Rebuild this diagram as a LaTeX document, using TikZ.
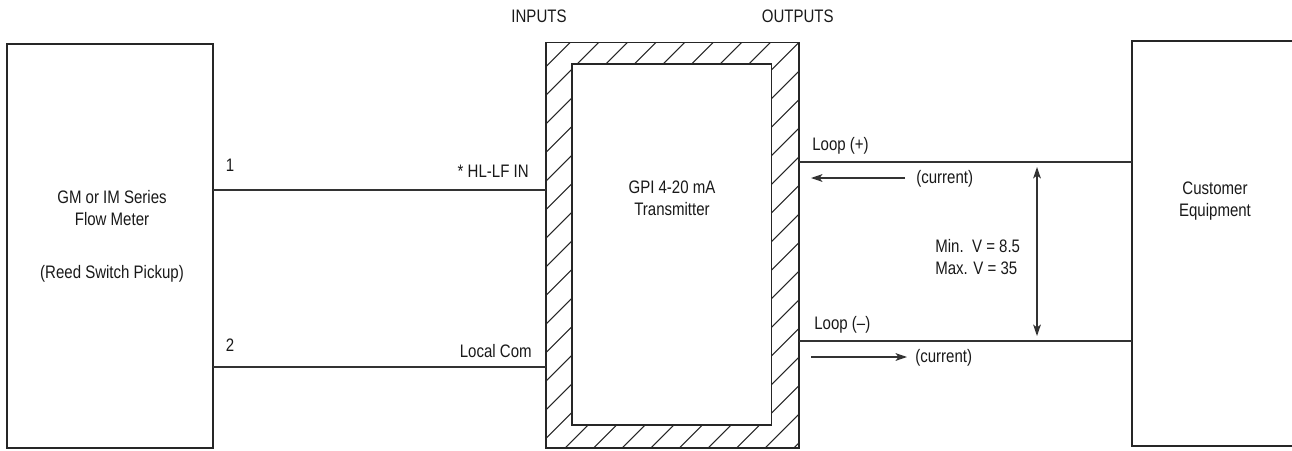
\documentclass[tikz,border=0pt]{standalone}
\usepackage{fontspec}
\setmainfont{Liberation Sans}[FakeStretch=0.83]
\usetikzlibrary{arrows.meta,positioning,calc}

\begin{document}
\begin{tikzpicture}[
  x=0.02cm, y=-0.02cm,
  >={Stealth[length=6.5pt, width=4.4pt, inset=1.6pt]},
  every node/.style={font=\fontsize{10.3}{12.5}\selectfont, text=black!90},
  blk/.style={draw=black!85, line width=0.9pt, inner sep=0pt, outer sep=0pt},
  wire/.style={draw=black!80, line width=0.8pt},
  hatch/.style={draw=black!85, line width=0.6pt},
  lbl/.style={inner sep=0pt},
]
  \useasboundingbox (0,0) rectangle (1292,450);

  % Flow meter
  \node[blk, minimum width=4.12cm, minimum height=8.08cm] (meter) at (110,246) {};
  \node[lbl, align=center, anchor=base] (mtxt) at (112,278)
    {GM or IM Series\\Flow Meter\\[17.5pt](Reed Switch Pickup)};

  % Transmitter with hatched housing
  \node[blk, minimum width=5.06cm, minimum height=8.11cm] (xmtr) at (672.5,245.2) {};
  \begin{scope}
    \clip (xmtr.south west) rectangle (xmtr.north east);
    \foreach \c in {584,612.6,...,1280}
      \draw[hatch] (\c-460,460) -- (\c-30,30);
  \end{scope}
  \node[blk, fill=white, minimum width=3.99cm, minimum height=7.22cm] (core) at (671.7,244.5) {};
  \node[blk, minimum width=5.06cm, minimum height=8.11cm] at (xmtr.center) {};
  \node[lbl, align=center, anchor=base] (gpi) at (672,215)
    {GPI 4-20 mA\\Transmitter};

  % Customer side
  \node[blk, minimum width=3.32cm, minimum height=8.1cm] (cust) at (1215,243.5) {};
  \node[lbl, align=center, anchor=base] (ctxt) at (1215,216)
    {Customer\\Equipment};

  % Headings
  \node[lbl, anchor=base] (inp) at (539,22) {INPUTS};
  \node[lbl, anchor=base] (outp) at (797.7,22) {OUTPUTS};

  % Input wiring
  \draw[wire] (meter.east |- 0,190) -- (xmtr.west |- 0,190);
  \draw[wire] (meter.east |- 0,367) -- (xmtr.west |- 0,367);
  \node[lbl, anchor=base] (t1) at (230,171) {1};
  \node[lbl, anchor=base] (t2) at (230,351) {2};
  \node[lbl, anchor=base east] (hl) at (529,177) {* HL-LF IN};
  \node[lbl, anchor=base east] (lc) at (532,357) {Local Com};

  % Output loop
  \draw[wire] (xmtr.east |- 0,162) -- (cust.west |- 0,162);
  \draw[wire] (xmtr.east |- 0,341) -- (cust.west |- 0,341);
  \node[lbl, anchor=base west] (lpp) at (812,150) {Loop (+)};
  \node[lbl, anchor=base west] (lpm) at (814,329) {Loop (–)};

  % Current direction
  \node[lbl, anchor=base west] (cur1) at (916,183) {(current)};
  \node[lbl, anchor=base west] (cur2) at (915,362) {(current)};
  \coordinate (a1) at (905,178);
  \coordinate (a2) at (811,178);
  \coordinate (b1) at (811,357);
  \coordinate (b2) at (907,357);
  \draw[wire, ->] (a1) -- (a2);
  \draw[wire, ->] (b1) -- (b2);

  % Voltage range
  \coordinate (vt) at (1037,167);
  \coordinate (vb) at (1037,336);
  \draw[wire, <->] (vt) -- (vb);
  \node[lbl, align=left, anchor=base west] (vr) at (935,274)
    {Min.~~V = 8.5\\Max. V = 35};
\end{tikzpicture}
\end{document}
